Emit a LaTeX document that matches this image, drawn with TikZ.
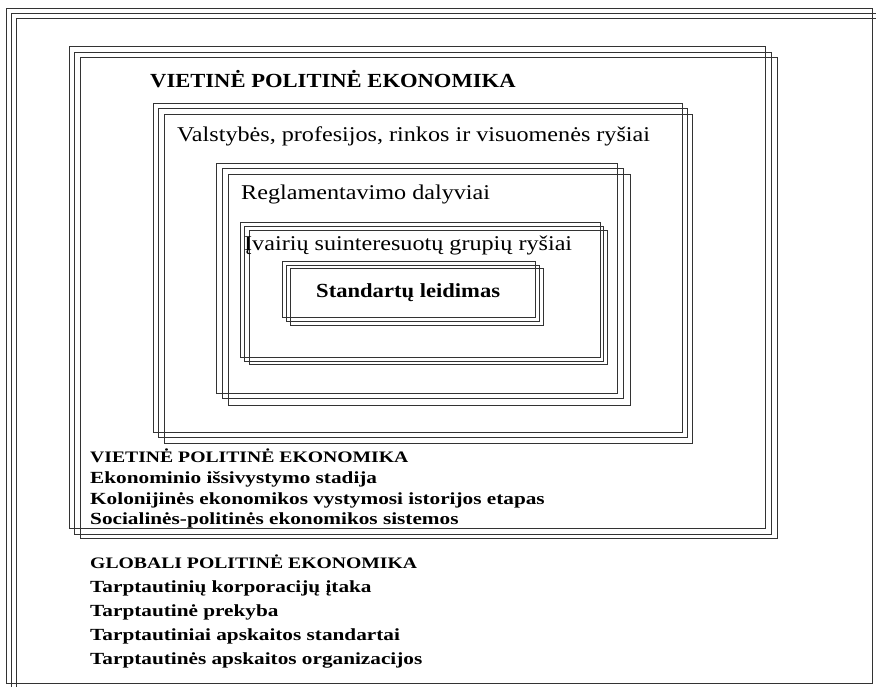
\documentclass[tikz,border=0pt]{standalone}
\usepackage{fontspec}
\setmainfont{Liberation Serif}
\newfontfamily\wideA[FakeStretch=1.13]{Liberation Serif}
\newfontfamily\wideR[FakeStretch=1.15]{Liberation Serif}
\newfontfamily\wideB[FakeStretch=1.23]{Liberation Serif}
\newfontfamily\wideC[FakeStretch=1.25]{Liberation Serif}
\newcommand\frm[4]{\draw[frameline] (#1,-#2) rectangle (#3,-#4);}
\tikzset{
  frameline/.style={line width=1pt, draw=black!80},
  toptext/.style={anchor=base west, inner sep=0pt, font=\wideR\fontsize{21}{24}\selectfont},
  toptextb/.style={anchor=base west, inner sep=0pt, font=\wideA\bfseries\fontsize{20}{24}\selectfont},
  lowhead/.style={anchor=base west, inner sep=0pt, font=\wideB\bfseries\fontsize{16}{19}\selectfont},
  lowtext/.style={anchor=base west, inner sep=0pt, font=\wideC\bfseries\fontsize{17}{19}\selectfont}
}
\begin{document}
\begin{tikzpicture}[x=1pt,y=1pt]
\useasboundingbox (0,0) rectangle (876,-686);
\fill[white] (0,0) rectangle (876,-686);
\begin{scope}
\clip (0,0) rectangle (876,-686);
% outer frame
\frm{6}{8}{872}{683}
\frm{11}{13}{877}{688}
\frm{16}{18}{882}{693}
% level 1
\frm{69}{46}{765}{528}
\frm{74}{52}{771}{534}
\frm{80}{57}{777}{538}
% level 2
\frm{153}{103}{682}{432}
\frm{158}{108}{687}{437}
\frm{164}{114}{692}{443}
% level 3
\frm{216}{163}{617}{393}
\frm{222}{168}{623}{398}
\frm{228}{174}{630}{405}
% level 4
\frm{240}{222}{600}{357}
\frm{244}{226}{603}{361}
\frm{249}{230}{607}{364}
% level 5
\frm{282}{261}{535}{317}
\frm{286}{265}{539}{321}
\frm{290}{268}{543}{325}
\end{scope}
\node[toptextb] (t1) at (150,-87) {VIETINĖ POLITINĖ EKONOMIKA};
\node[toptext] (t2) at (177,-141) {Valstybės, profesijos, rinkos ir visuomenės ryšiai};
\node[toptext] (t3) at (241,-199) {Reglamentavimo dalyviai};
\node[toptext] (t4) at (244,-250) {Įvairių suinteresuotų grupių ryšiai};
\node[toptextb] (t5) at (316,-297) {Standartų leidimas};
\node[lowhead] (v1) at (90,-462) {VIETINĖ POLITINĖ EKONOMIKA};
\node[lowtext] (v2) at (90,-483) {Ekonominio išsivystymo stadija};
\node[lowtext] (v3) at (90,-504) {Kolonijinės ekonomikos vystymosi istorijos etapas};
\node[lowtext] (v4) at (90,-524) {Socialinės-politinės ekonomikos sistemos};
\node[lowhead] (g1) at (90,-568) {GLOBALI POLITINĖ EKONOMIKA};
\node[lowtext] (g2) at (90,-592) {Tarptautinių korporacijų įtaka};
\node[lowtext] (g3) at (90,-616) {Tarptautinė prekyba};
\node[lowtext] (g4) at (90,-640) {Tarptautiniai apskaitos standartai};
\node[lowtext] (g5) at (90,-664) {Tarptautinės apskaitos organizacijos};
\end{tikzpicture}
\end{document}
